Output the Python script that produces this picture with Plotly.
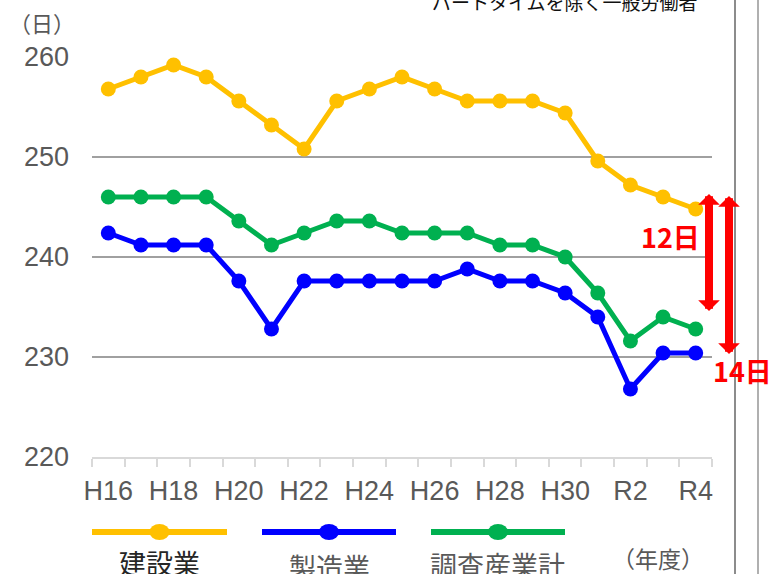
import plotly.graph_objects as go

years = ["H16", "H17", "H18", "H19", "H20", "H21", "H22", "H23", "H24", "H25",
         "H26", "H27", "H28", "H29", "H30", "R1", "R2", "R3", "R4"]
kensetsu = [256.8, 258.0, 259.2, 258.0, 255.6, 253.2, 250.8, 255.6, 256.8, 258.0,
            256.8, 255.6, 255.6, 255.6, 254.4, 249.6, 247.2, 246.0, 244.8]
seizo = [242.4, 241.2, 241.2, 241.2, 237.6, 232.8, 237.6, 237.6, 237.6, 237.6,
         237.6, 238.8, 237.6, 237.6, 236.4, 234.0, 226.8, 230.4, 230.4]
chosa = [246.0, 246.0, 246.0, 246.0, 243.6, 241.2, 242.4, 243.6, 243.6, 242.4,
         242.4, 242.4, 241.2, 241.2, 240.0, 236.4, 231.6, 234.0, 232.8]
series_names = ["建設業", "製造業", "調査産業計"]
colors = ["#FFC000", "#0000FF", "#00B050"]
yticks = [220, 230, 240, 250, 260]

W, H = 771, 574
L, R, T, B = 92, 712, 57, 457

def px(x):
    return (x - L) / (R - L)

def py(y):
    return (B - y) / (B - T)

CJK = "Noto Sans CJK JP"
LAT = "Liberation Sans, Arial"
GRAY = "#595959"

xs = list(range(len(years)))
fig = go.Figure()
for name, vals, c in zip(series_names, [kensetsu, seizo, chosa], colors):
    fig.add_trace(go.Scatter(x=xs, y=vals, mode="lines+markers", name=name,
                             line=dict(color=c, width=5),
                             marker=dict(color=c, size=15), showlegend=False))

shapes = []
annotations = []

def text(t, x, y, size, color, family=CJK, xa="center", ya="middle"):
    annotations.append(dict(text=t, xref="paper", yref="paper", x=px(x), y=py(y),
                            showarrow=False, xanchor=xa, yanchor=ya,
                            font=dict(family=family, size=size, color=color)))

# legend built manually (text under the sample line)
leg_x = [(92, 227), (262, 396), (431, 565)]
leg_text_y = [562, 566, 564]
leg_text_col = ["#262626", GRAY, GRAY]
for (x0, x1), c, name, ty, tc in zip(leg_x, colors, series_names, leg_text_y, leg_text_col):
    shapes.append(dict(type="line", xref="paper", yref="paper", x0=px(x0), x1=px(x1),
                       y0=py(532), y1=py(532), line=dict(color=c, width=6)))
    cx = (x0 + x1) / 2
    shapes.append(dict(type="circle", xref="paper", yref="paper", xsizemode="pixel",
                       ysizemode="pixel", xanchor=px(cx), yanchor=py(532),
                       x0=-10, x1=10, y0=-8, y1=8, fillcolor=c, line=dict(width=0)))
    text(name, cx, ty, 27, tc)

text("（年度）", 658, 558, 23, GRAY)
text("（日）", 42, 22, 22, GRAY)
text("パートタイムを除く一般労働者", 565, 1, 19, "#111111")

# difference arrows
RED = "#FF0000"
for xpix, ytop, ybot in [(709, 194, 312), (729, 196, 355)]:
    annotations.append(dict(text=" ", xref="paper", yref="paper", x=px(xpix), y=py(ytop),
                            ax=0, ay=ybot - ytop, axref="pixel", ayref="pixel",
                            showarrow=True, arrowside="end+start", arrowhead=1,
                            startarrowhead=1, arrowwidth=8, arrowsize=0.45,
                            startarrowsize=0.45, arrowcolor=RED, standoff=0,
                            startstandoff=0, font=dict(size=1), borderpad=0))
text("<b>12日</b>", 670, 236, 27, RED)
text("<b>14日</b>", 711, 370, 27, RED, xa="left")

# right frame lines
for xpix, col in [(735, "#8C8C8C"), (758, "#B0B0B0")]:
    shapes.append(dict(type="line", xref="paper", yref="paper", x0=px(xpix), x1=px(xpix),
                       y0=py(H + 5), y1=py(-5), line=dict(color=col, width=2)))

fig.update_layout(
    width=W, height=H,
    margin=dict(l=L, r=W - R, t=T, b=H - B),
    paper_bgcolor="white", plot_bgcolor="white",
    shapes=shapes, annotations=annotations,
    showlegend=False,
    xaxis=dict(range=[-0.5, len(years) - 0.5], tickmode="array",
               tickvals=xs[::2], ticktext=years[::2], ticks="",
               showgrid=False, zeroline=False, showline=True,
               linecolor="#D9D9D9", linewidth=2,
               tickfont=dict(family=LAT, size=27, color=GRAY),
               ticklabelstandoff=9,
               minor=dict(tickmode="linear", tick0=-0.5, dtick=1, ticks="outside",
                          ticklen=8, tickwidth=1.5, tickcolor="#D9D9D9", showgrid=False)),
    yaxis=dict(range=[220, 260], tickmode="array", tickvals=yticks,
               ticktext=[str(v) for v in yticks], showgrid=False, zeroline=False,
               showline=False, ticks="",
               tickfont=dict(family=LAT, size=27, color=GRAY),
               ticklabelstandoff=22,
               minor=dict(tickmode="array", tickvals=yticks[1:], showgrid=True,
                          gridcolor="#A0A0A0", gridwidth=2, ticks="")),
)

fig.write_html("out.html", config={"displayModeBar": False},
               post_script="document.body.style.margin='0';document.body.style.overflow='hidden';")
